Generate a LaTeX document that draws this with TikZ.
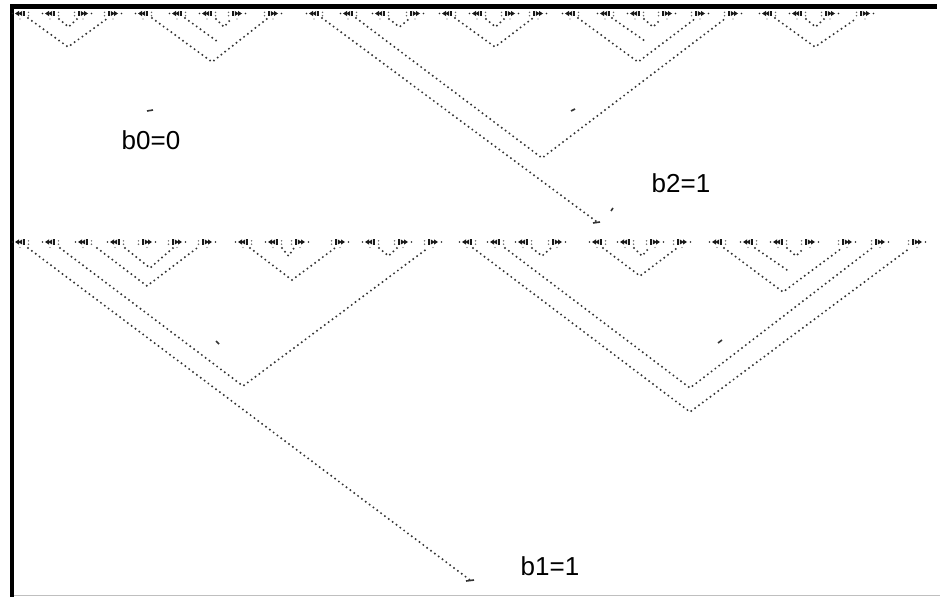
\documentclass[tikz,border=0pt]{standalone}
\usepackage{fontspec}
\setmainfont{Liberation Sans}
\begin{document}
\begin{tikzpicture}[x=1pt,y=-1pt,
  dotline/.style={line width=2.2pt, line cap=round, dash pattern=on 0pt off 4.8pt, draw=black!80},
  lbl/.style={font=\fontsize{26}{30}\selectfont, text=black, inner sep=0pt},
  straymark/.style={line width=1.6pt, draw=black!80},
  glL/.pic={
    \fill[black!85] (-7.5,0) circle (0.9);
    \fill[black!90] (-5,0) -- (-1,-2.6) -- (-1,2.6) -- cycle;
    \fill[black!90] (-1.8,0) -- (2.2,-2.6) -- (2.2,2.6) -- cycle;
    \fill[black!90] (3,-2.8) rectangle (4.6,2.8);
    \fill[black!60] (8.5,-1.2) circle (0.8);
    \fill[black!60] (8.5,2.2) circle (0.8);
    \fill[black!60] (0,5.5) circle (0.7);
  },
  glR/.pic={
    \fill[black!90] (-4.6,-2.8) rectangle (-3,2.8);
    \fill[black!90] (-2.2,-2.6) -- (1.8,0) -- (-2.2,2.6) -- cycle;
    \fill[black!90] (1,-2.6) -- (5,0) -- (1,2.6) -- cycle;
    \fill[black!85] (8.5,0) circle (0.9);
    \fill[black!60] (-8.5,-1.2) circle (0.8);
    \fill[black!60] (-8.5,2.2) circle (0.8);
    \fill[black!60] (0,5.5) circle (0.7);
  }]
\useasboundingbox (0,0) rectangle (940,597);
\fill[white] (0,0) rectangle (940,597);
% frame
\fill[black] (10,4) rectangle (937,8.5);
\fill[black] (10,4) rectangle (14,597);
\draw[black!25, line width=0.8pt] (14,595.5) -- (940,595.5);
% glyph rows
\foreach \x in {20,50,143,177,207,314,348,380,447,477,570,605,635,767,797}
  \pic at (\x,13.5) {glL};
\foreach \x in {83,113,237,273,415,510,538,667,700,733,830,865}
  \pic at (\x,13.5) {glR};
\foreach \x in {20,50,83,115,243,273,370,467,495,523,597,625,717,748,778}
  \pic at (\x,242) {glL};
\foreach \x in {147,177,207,300,340,403,433,557,655,682,810,847,880,917}
  \pic at (\x,242) {glR};
% tiny v's
\foreach \a/\b in {50/83,207/237,380/415,477/510,635/667,797/830}
  \draw[dotline] (\a+9,19) -- ({(\a+\b)/2+2},27) -- (\b-6,19);
\foreach \a/\b in {273/300,370/403,523/557,625/655,778/810}
  \draw[dotline] (\a+9,248) -- ({(\a+\b)/2+2},256) -- (\b-6,248);
% upper section
\draw[dotline] (28,18) -- (68,47) -- (108,18);
\draw[dotline] (152,18) -- (212,62) -- (268,18);
\draw[dotline] (185,18) -- (218,42);
\draw[dotline] (322,18) -- (597,222);
\draw[dotline] (356,18) -- (542,158) -- (726,18);
\draw[dotline] (455,18) -- (495,47) -- (533,18);
\draw[dotline] (578,18) -- (638,62) -- (696,18);
\draw[dotline] (612,18) -- (645,41);
\draw[dotline] (775,18) -- (815,47) -- (857,18);
% lower section
\draw[dotline] (28,248) -- (470,580);
\draw[dotline] (60,248) -- (243,386) -- (428,248);
\draw[dotline] (97,248) -- (147,286) -- (197,248);
\draw[dotline] (125,248) -- (150,268) -- (173,248);
\draw[dotline] (250,248) -- (292,280) -- (335,248);
\draw[dotline] (473,248) -- (690,412) -- (910,248);
\draw[dotline] (505,248) -- (690,388) -- (872,248);
\draw[dotline] (603,248) -- (640,276) -- (677,248);
\draw[dotline] (724,248) -- (783,292) -- (842,248);
\draw[dotline] (755,248) -- (787,270);
% stray marks
\draw[straymark] (147,111) -- (153,110);
\draw[straymark] (571,111) -- (575,109);
\draw[straymark] (611,211) -- (613,208);
\draw[straymark] (593,223) -- (600,222);
\draw[straymark] (216,341) -- (219,344);
\draw[straymark] (718,343) -- (722,340);
\draw[straymark] (466,581) -- (474,580);
% labels
\node[lbl] (b0) at (151,140) {b0=0};
\node[lbl] (b2) at (681,183) {b2=1};
\node[lbl] (b1) at (550,566) {b1=1};
\end{tikzpicture}
\end{document}
